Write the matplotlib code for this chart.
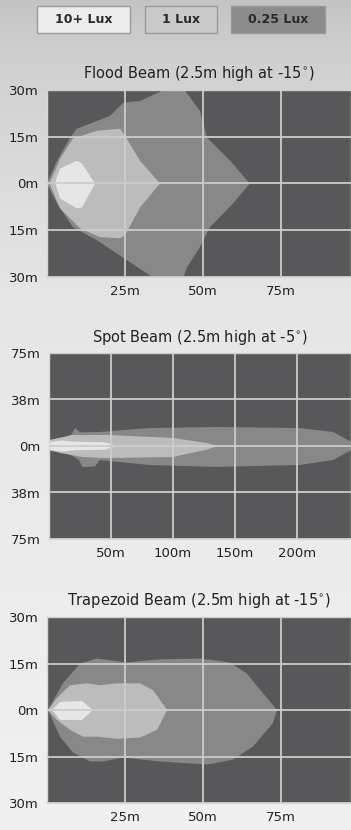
import numpy as np
import matplotlib
matplotlib.use("Agg")
import matplotlib.pyplot as plt
from matplotlib.patches import Polygon, Rectangle

# --- legend ---
legend_labels = ["10+ Lux", "1 Lux", "0.25 Lux"]

# --- Flood beam contours (x m, y m) ---
flood_title = "Flood Beam (2.5m high at -15$^{\\circ}$)"
flood_low = [(0, 0), (3.2, 7.3), (7.4, 14.7), (9.6, 17.6), (20.2, 21.7), (24.4, 25.9),
             (29.8, 26.5), (36.2, 29.4), (38, 31), (43.3, 31), (49, 23.3), (51.3, 14.7),
             (58.7, 7.3), (65, 0), (59.6, -6.4), (52.2, -14), (49, -20.4), (44.9, -26.8),
             (43.3, -31), (35.3, -31), (25.6, -24.6), (16, -18.2), (8.3, -14), (3.2, -6.4)]
flood_mid = [(0.8, 0), (4.2, 8), (8.3, 14.4), (16, 16.9), (23.4, 17.6), (25, 15.3),
             (29.8, 7.3), (36.2, 0), (29.8, -7.7), (25, -16.6), (23.4, -17.6),
             (17, -17.2), (10.6, -14.4), (4.2, -8)]
flood_high = [(2.6, 0.3), (4.2, 4.8), (9.6, 7.3), (11.2, 6.4), (15.4, 0), (11.2, -7.7),
              (9.6, -8), (4.2, -4.8)]

# --- Spot beam contours ---
spot_title = "Spot Beam (2.5m high at -5$^{\\circ}$)"
spot_low = [(0, 4), (10, 6), (18, 9), (21, 14.5), (25, 11), (41, 11.3), (81, 14.5),
            (135, 15.3), (202, 14.5), (229, 11.3), (250, 0), (229, -11.3), (202, -15.3),
            (135, -16.9), (81, -15.3), (41, -11.3), (37, -16.5), (27, -17), (24, -11),
            (14.5, -5.6), (0, -4)]
spot_mid = [(0, 4.8), (19, 8.9), (47, 8.9), (100, 6.5), (127, 2.4), (136, 0),
            (127, -3), (100, -8.9), (47, -9.7), (27, -8.9), (9, -5.6), (0, -3.2)]
spot_high = [(0, 3), (10, 4.5), (20, 3.5), (45, 3), (55, 0), (45, -3), (20, -3.5),
             (10, -4.5), (0, -3)]

# --- Trapezoid beam contours ---
trap_title = "Trapezoid Beam (2.5m high at -15$^{\\circ}$)"
trap_low = [(0.3, 0), (5.1, 8.6), (10.6, 15), (16, 16.6), (20.2, 16), (25.6, 15.3),
            (35.3, 16.3), (49, 16.6), (58.7, 15.3), (64, 11.8), (69.2, 5.4), (73.7, 0),
            (72.4, -4.2), (66, -11.8), (59.6, -16), (51.3, -17.6), (36.2, -16.6),
            (24.4, -15.3), (18, -16.6), (13.8, -16.6), (8.3, -13.7), (4.2, -8.6)]
trap_mid = [(0.3, 0), (3.5, 4.2), (7.4, 8), (12.8, 8.6), (17, 8), (22.4, 8.6),
            (29.8, 8.6), (34, 6.4), (38.5, 0), (35.3, -6.4), (29.8, -8.9), (22.4, -9.3),
            (16, -8.6), (11.5, -8.6), (7.4, -6.4), (3.2, -3.2)]
trap_high = [(1.6, 0), (4.2, 2.6), (11.2, 2.9), (14.7, 0), (11.2, -3.2), (4.2, -3.2)]

# --- axes ticks ---
flood_xticks = [25, 50, 75]
flood_xlabels = ["25m", "50m", "75m"]
flood_yticks = [30, 15, 0, -15, -30]
flood_ylabels = ["30m", "15m", "0m", "15m", "30m"]
spot_xticks = [50, 100, 150, 200]
spot_xlabels = ["50m", "100m", "150m", "200m"]
spot_yticks = [75, 37.5, 0, -37.5, -75]
spot_ylabels = ["75m", "38m", "0m", "38m", "75m"]

BG = "#58585a"
C_LOW, C_MID, C_HIGH = "#888888", "#bcbcbc", "#e6e6e6"
GRID = "#cccccc"

fig = plt.figure(figsize=(3.51, 8.30), dpi=100)

# soft vertical gradient for the page (top darker, bottom near white)
bg = fig.add_axes([0, 0, 1, 1], zorder=-10)
rows = np.arange(830)
level = np.interp(rows, [0, 60, 300, 830], [0xc4, 0xd0, 0xe6, 0xf1]) / 255
img = np.repeat(level[:, None, None], 3, axis=2)
bg.imshow(img, aspect="auto", extent=[0, 1, 0, 1])
bg.axis("off")


def draw_panel(rect, title, low, mid, high, xlim, ylim, xticks, xlabels, yticks, ylabels, pad):
    ax = fig.add_axes(rect)
    ax.set_facecolor(BG)
    for poly, c in [(low, C_LOW), (mid, C_MID), (high, C_HIGH)]:
        ax.add_patch(Polygon(poly, closed=True, facecolor=c, edgecolor="none", zorder=1))
    ax.set_xlim(*xlim)
    ax.set_ylim(*ylim)
    ax.set_xticks(xticks)
    ax.set_xticklabels(xlabels)
    ax.set_yticks(yticks)
    ax.set_yticklabels(ylabels)
    ax.tick_params(length=0, labelsize=9.5, colors="#222222", pad=6)
    ax.grid(True, color=GRID, lw=1.3, zorder=2)
    ax.set_axisbelow(False)
    for s in ax.spines.values():
        s.set_color("#d8d8d8")
        s.set_linewidth(1)
    ax.set_title(title, fontsize=10.5, color="#222222", pad=pad)
    return ax


draw_panel([47 / 351, 553 / 830, 304 / 351, 187 / 830], flood_title,
           flood_low, flood_mid, flood_high, (0, 97.4), (-30, 30),
           flood_xticks, flood_xlabels, flood_yticks, flood_ylabels, 8.5)
draw_panel([49 / 351, 291 / 830, 302 / 351, 186 / 830], spot_title,
           spot_low, spot_mid, spot_high, (0, 243.5), (-75, 75),
           spot_xticks, spot_xlabels, spot_yticks, spot_ylabels, 8)
draw_panel([47 / 351, 27 / 830, 304 / 351, 186 / 830], trap_title,
           trap_low, trap_mid, trap_high, (0, 97.4), (-30, 30),
           flood_xticks, flood_xlabels, flood_yticks, flood_ylabels, 8.5)

# legend boxes
box_faces = ["#ececec", "#cacaca", "#8c8c8c"]
box_x = [37, 145, 231]
box_w = [93, 72, 94]
for lab, fc, x, w in zip(legend_labels, box_faces, box_x, box_w):
    fig.patches.append(Rectangle((x / 351, 1 - 33 / 830), w / 351, 27 / 830,
                                 transform=fig.transFigure, facecolor=fc,
                                 edgecolor="#9a9a9a", lw=1))
    fig.text((x + w / 2) / 351, 1 - 19.5 / 830, lab, ha="center", va="center",
             fontsize=9, fontweight="bold", color="#2a2a2a")

fig.savefig("out.png", dpi=100)
